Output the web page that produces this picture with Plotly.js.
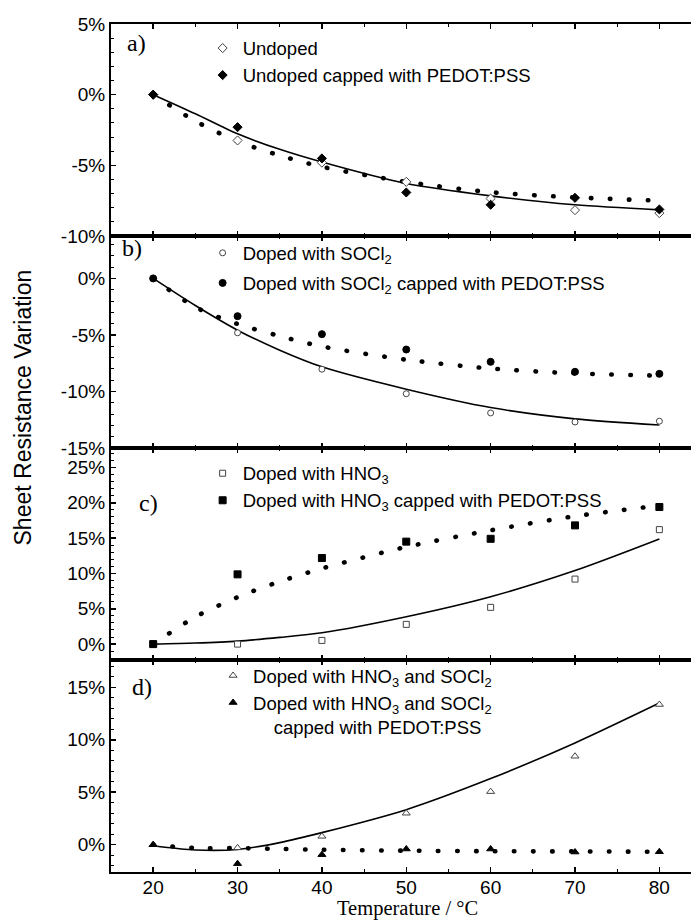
<!DOCTYPE html>
<html>
<head>
<meta charset="utf-8">
<script src="https://cdn.plot.ly/plotly-3.0.1.min.js"></script>
<style>
html,body{margin:0;padding:0;background:#fff;overflow:hidden;}
.dotfit path.js-line{stroke-linecap:round !important;}
</style>
</head>
<body>
<div id="chart" style="width:691px;height:921px;"></div>
<script>
// ---- data ----
const temps = [20, 30, 40, 50, 60, 70, 80];
const fitTemps = [20, 25, 30, 35, 40, 50, 60, 70, 80];

// panel a
const undoped = [0, -3.24, -4.81, -6.17, -7.35, -8.17, -8.38];
const undopedCapped = [0, -2.30, -4.51, -6.92, -7.79, -7.30, -8.12];
const fitUndoped = [0, -1.35, -2.77, -3.87, -4.77, -6.29, -7.16, -7.79, -8.15];
const fitUndopedCapped = [0, -1.87, -3.3, -4.3, -5.1, -6.17, -6.9, -7.27, -7.5];

// panel b
const socl2 = [0, -4.81, -8.03, -10.2, -11.9, -12.7, -12.63];
const socl2Capped = [0, -3.34, -4.93, -6.29, -7.38, -8.26, -8.44];
const fitSocl2 = [0, -2.4, -4.58, -6.35, -7.82, -9.8, -11.42, -12.42, -12.96];
const fitSocl2Capped = [0, -2.54, -4.03, -5.1, -6.02, -7.19, -7.97, -8.4, -8.6];

// panel c
const hno3 = [0, 0.0, 0.52, 2.79, 5.2, 9.2, 16.2];
const hno3Capped = [0, 9.87, 12.18, 14.5, 14.9, 16.8, 19.4];
const fitHno3 = [0, 0.15, 0.42, 0.95, 1.6, 3.87, 6.7, 10.4, 14.87];
const fitHno3Capped = [0, 3.85, 6.64, 8.85, 10.7, 13.75, 16.1, 18.1, 19.6];

// panel d
const both = [0, -0.3, 0.8, 3.0, 5.06, 8.43, 13.36];
const bothCapped = [0, -1.81, -0.95, -0.41, -0.41, -0.7, -0.67];
const fitBoth = [-0.1, -0.5, -0.45, 0.2, 1.15, 3.34, 6.3, 9.7, 13.5];
const fitBothCapped = [0, -0.32, -0.33, -0.4, -0.48, -0.57, -0.62, -0.64, -0.67];

// tick labels
const yTicksA = [-10, -5, 0, 5];
const yTextA = ['-10%', '-5%', '0%', '5%'];
const yTicksB = [-15, -10, -5, 0];
const yTextB = ['-15%', '-10%', '-5%', '0%'];
const yTicksC = [0, 5, 10, 15, 20, 25];
const yTextC = ['0%', '5%', '10%', '15%', '20%', '25%'];
const yTicksD = [0, 5, 10, 15];
const yTextD = ['0%', '5%', '10%', '15%'];
const xTicks = [20, 30, 40, 50, 60, 70, 80];
const xText = ['20', '30', '40', '50', '60', '70', '80'];

// legend texts
const namesA = ['Undoped', 'Undoped capped with PEDOT:PSS'];
const namesB = ['Doped with SOCl<sub>2</sub>', 'Doped with SOCl<sub>2</sub> capped with PEDOT:PSS'];
const namesC = ['Doped with HNO<sub>3</sub>', 'Doped with HNO<sub>3</sub> capped with PEDOT:PSS'];
const namesD = ['Doped with HNO<sub>3</sub> and SOCl<sub>2</sub>',
                'Doped with HNO<sub>3</sub> and SOCl<sub>2</sub><br>&nbsp;&nbsp;&nbsp;&nbsp;capped with PEDOT:PSS'];

// ---- styling ----
const SANS = 'Liberation Sans, Arial, Helvetica, sans-serif';
const SERIF = 'Liberation Serif, Times New Roman, serif';
const BLK = '#000';

function solid(x, y, xa, ya) {
  return {x, y, xaxis: xa, yaxis: ya, mode: 'lines', line: {color: BLK, width: 1.6, shape: 'spline', smoothing: 0.8}, showlegend: false, hoverinfo: 'skip'};
}
function dotted(x, y, xa, ya) {
  return {x, y, xaxis: xa, yaxis: ya, mode: 'lines', line: {color: BLK, width: 4.6, dash: '0.5px,18.5px', shape: 'spline', smoothing: 0.8}, showlegend: false, hoverinfo: 'skip'};
}
function pts(x, y, xa, ya, sym, open, size, name, leg, grp) {
  return {x, y, xaxis: xa, yaxis: ya, mode: 'markers', name, legend: leg, legendgroup: grp,
    marker: {symbol: sym, size, color: open ? '#fff' : BLK, line: {color: open ? '#444' : BLK, width: 1}}};
}

const data = [
  solid(fitTemps, fitUndoped, 'x', 'y'),
  dotted(fitTemps, fitUndopedCapped, 'x', 'y'),
  pts(temps, undoped, 'x', 'y', 'diamond', true, 7, namesA[0], 'legend', 'a1'),
  pts(temps, undopedCapped, 'x', 'y', 'diamond', false, 7, namesA[1], 'legend', 'a2'),

  solid(fitTemps, fitSocl2, 'x2', 'y2'),
  dotted(fitTemps, fitSocl2Capped, 'x2', 'y2'),
  pts(temps, socl2, 'x2', 'y2', 'circle', true, 6, namesB[0], 'legend2', 'b1'),
  pts(temps, socl2Capped, 'x2', 'y2', 'circle', false, 7, namesB[1], 'legend2', 'b2'),

  solid(fitTemps, fitHno3, 'x3', 'y3'),
  dotted(fitTemps, fitHno3Capped, 'x3', 'y3'),
  pts(temps, hno3, 'x3', 'y3', 'square', true, 6, namesC[0], 'legend3', 'c1'),
  pts(temps, hno3Capped, 'x3', 'y3', 'square', false, 7, namesC[1], 'legend3', 'c2'),

  solid(fitTemps, fitBoth, 'x4', 'y4'),
  dotted(fitTemps, fitBothCapped, 'x4', 'y4'),
  pts(temps, both, 'x4', 'y4', 'triangle-up', true, 7, namesD[0], 'legend4', 'd1'),
  pts(temps, bothCapped, 'x4', 'y4', 'triangle-up', false, 7, namesD[1], 'legend4', 'd2')
];

function xax(anchor, labels) {
  return {anchor, range: [15, 83.75], tickmode: 'array', tickvals: xTicks, ticktext: xText,
    ticks: 'inside', ticklen: 5, tickwidth: 1.5, tickcolor: BLK,
    showline: true, linewidth: 2, linecolor: BLK, mirror: 'allticks',
    showgrid: false, zeroline: false, showticklabels: labels, ticklabelstandoff: -3,
    tickfont: {family: SANS, size: 19, color: BLK},
    minor: {tickmode: 'linear', tick0: 0, dtick: 5, ticks: 'inside', ticklen: 3, tickwidth: 1, tickcolor: BLK, showgrid: false}};
}
function yax(anchor, domain, range, vals, text) {
  return {anchor, domain, range, tickmode: 'array', tickvals: vals, ticktext: text,
    ticks: 'inside', ticklen: 5, tickwidth: 1.5, tickcolor: BLK,
    showline: true, linewidth: 2, linecolor: BLK, mirror: false,
    showgrid: false, zeroline: false,
    tickfont: {family: SANS, size: 19, color: BLK},
    minor: {tickmode: 'linear', tick0: 0, dtick: 1, ticks: 'inside', ticklen: 3, tickwidth: 1, tickcolor: BLK, showgrid: false}};
}
function leg(x, y, gap) {
  return {x, y, xanchor: 'left', yanchor: 'top', bgcolor: 'rgba(0,0,0,0)', borderwidth: 0,
    font: {family: SANS, size: 18.5, color: BLK}, traceorder: 'grouped', tracegroupgap: gap, valign: 'top', itemwidth: 30};
}
function lab(t, x, y) {
  return {text: t, xref: 'paper', yref: 'paper', x, y, xanchor: 'center', yanchor: 'middle', showarrow: false,
    font: {family: SERIF, size: 24, color: BLK}};
}

const layout = {
  width: 691, height: 921,
  margin: {l: 111, r: 0, t: 24, b: 49},
  paper_bgcolor: '#fff', plot_bgcolor: '#fff',
  showlegend: true,
  xaxis: xax('y', false),
  xaxis2: xax('y2', false),
  xaxis3: xax('y3', false),
  xaxis4: xax('y4', true),
  yaxis: yax('x', [0.75, 1], [-10, 5], yTicksA, yTextA),
  yaxis2: yax('x2', [0.5, 0.75], [-15, 3.75], yTicksB, yTextB),
  yaxis3: yax('x3', [0.25, 0.5], [-2.25, 27.75], yTicksC, yTextC),
  yaxis4: yax('x4', [0, 0.25], [-2.6, 17.6], yTicksD, yTextD),
  legend: leg(0.158, 0.9935, 0),
  legend2: leg(0.158, 0.752, 3),
  legend3: leg(0.158, 0.4921, 0),
  legend4: leg(0.176, 0.2536, 0),
  annotations: [
    lab('a)', 0.0448, 0.9776),
    lab('b)', 0.0362, 0.7355),
    lab('c)', 0.0655, 0.4351),
    lab('d)', 0.0543, 0.2185),
    {text: 'Sheet Resistance Variation', xref: 'paper', yref: 'paper', x: -0.1517, y: 0.5478,
     xanchor: 'center', yanchor: 'middle', textangle: -90, showarrow: false,
     font: {family: SANS, size: 23, color: BLK}},
    {text: 'Temperature / °C', xref: 'paper', yref: 'paper', x: 0.512, y: -0.0572,
     xanchor: 'center', yanchor: 'bottom', showarrow: false, borderpad: 0,
     font: {family: SERIF, size: 20.5, color: BLK}}
  ]
};

Plotly.newPlot('chart', data, layout, {displayModeBar: false, staticPlot: true}).then(function (gd) {
  // give the dotted fit curves round dots
  gd.querySelectorAll('.scatterlayer .trace').forEach(function (tr, i) {
    if (i % 4 === 1) tr.classList.add('dotfit');
  });
  // drop empty placeholder text nodes that Plotly leaves for unused titles
  gd.querySelectorAll('text').forEach(function (t) {
    if (!t.textContent.trim()) t.remove();
  });
});
</script>
</body>
</html>
